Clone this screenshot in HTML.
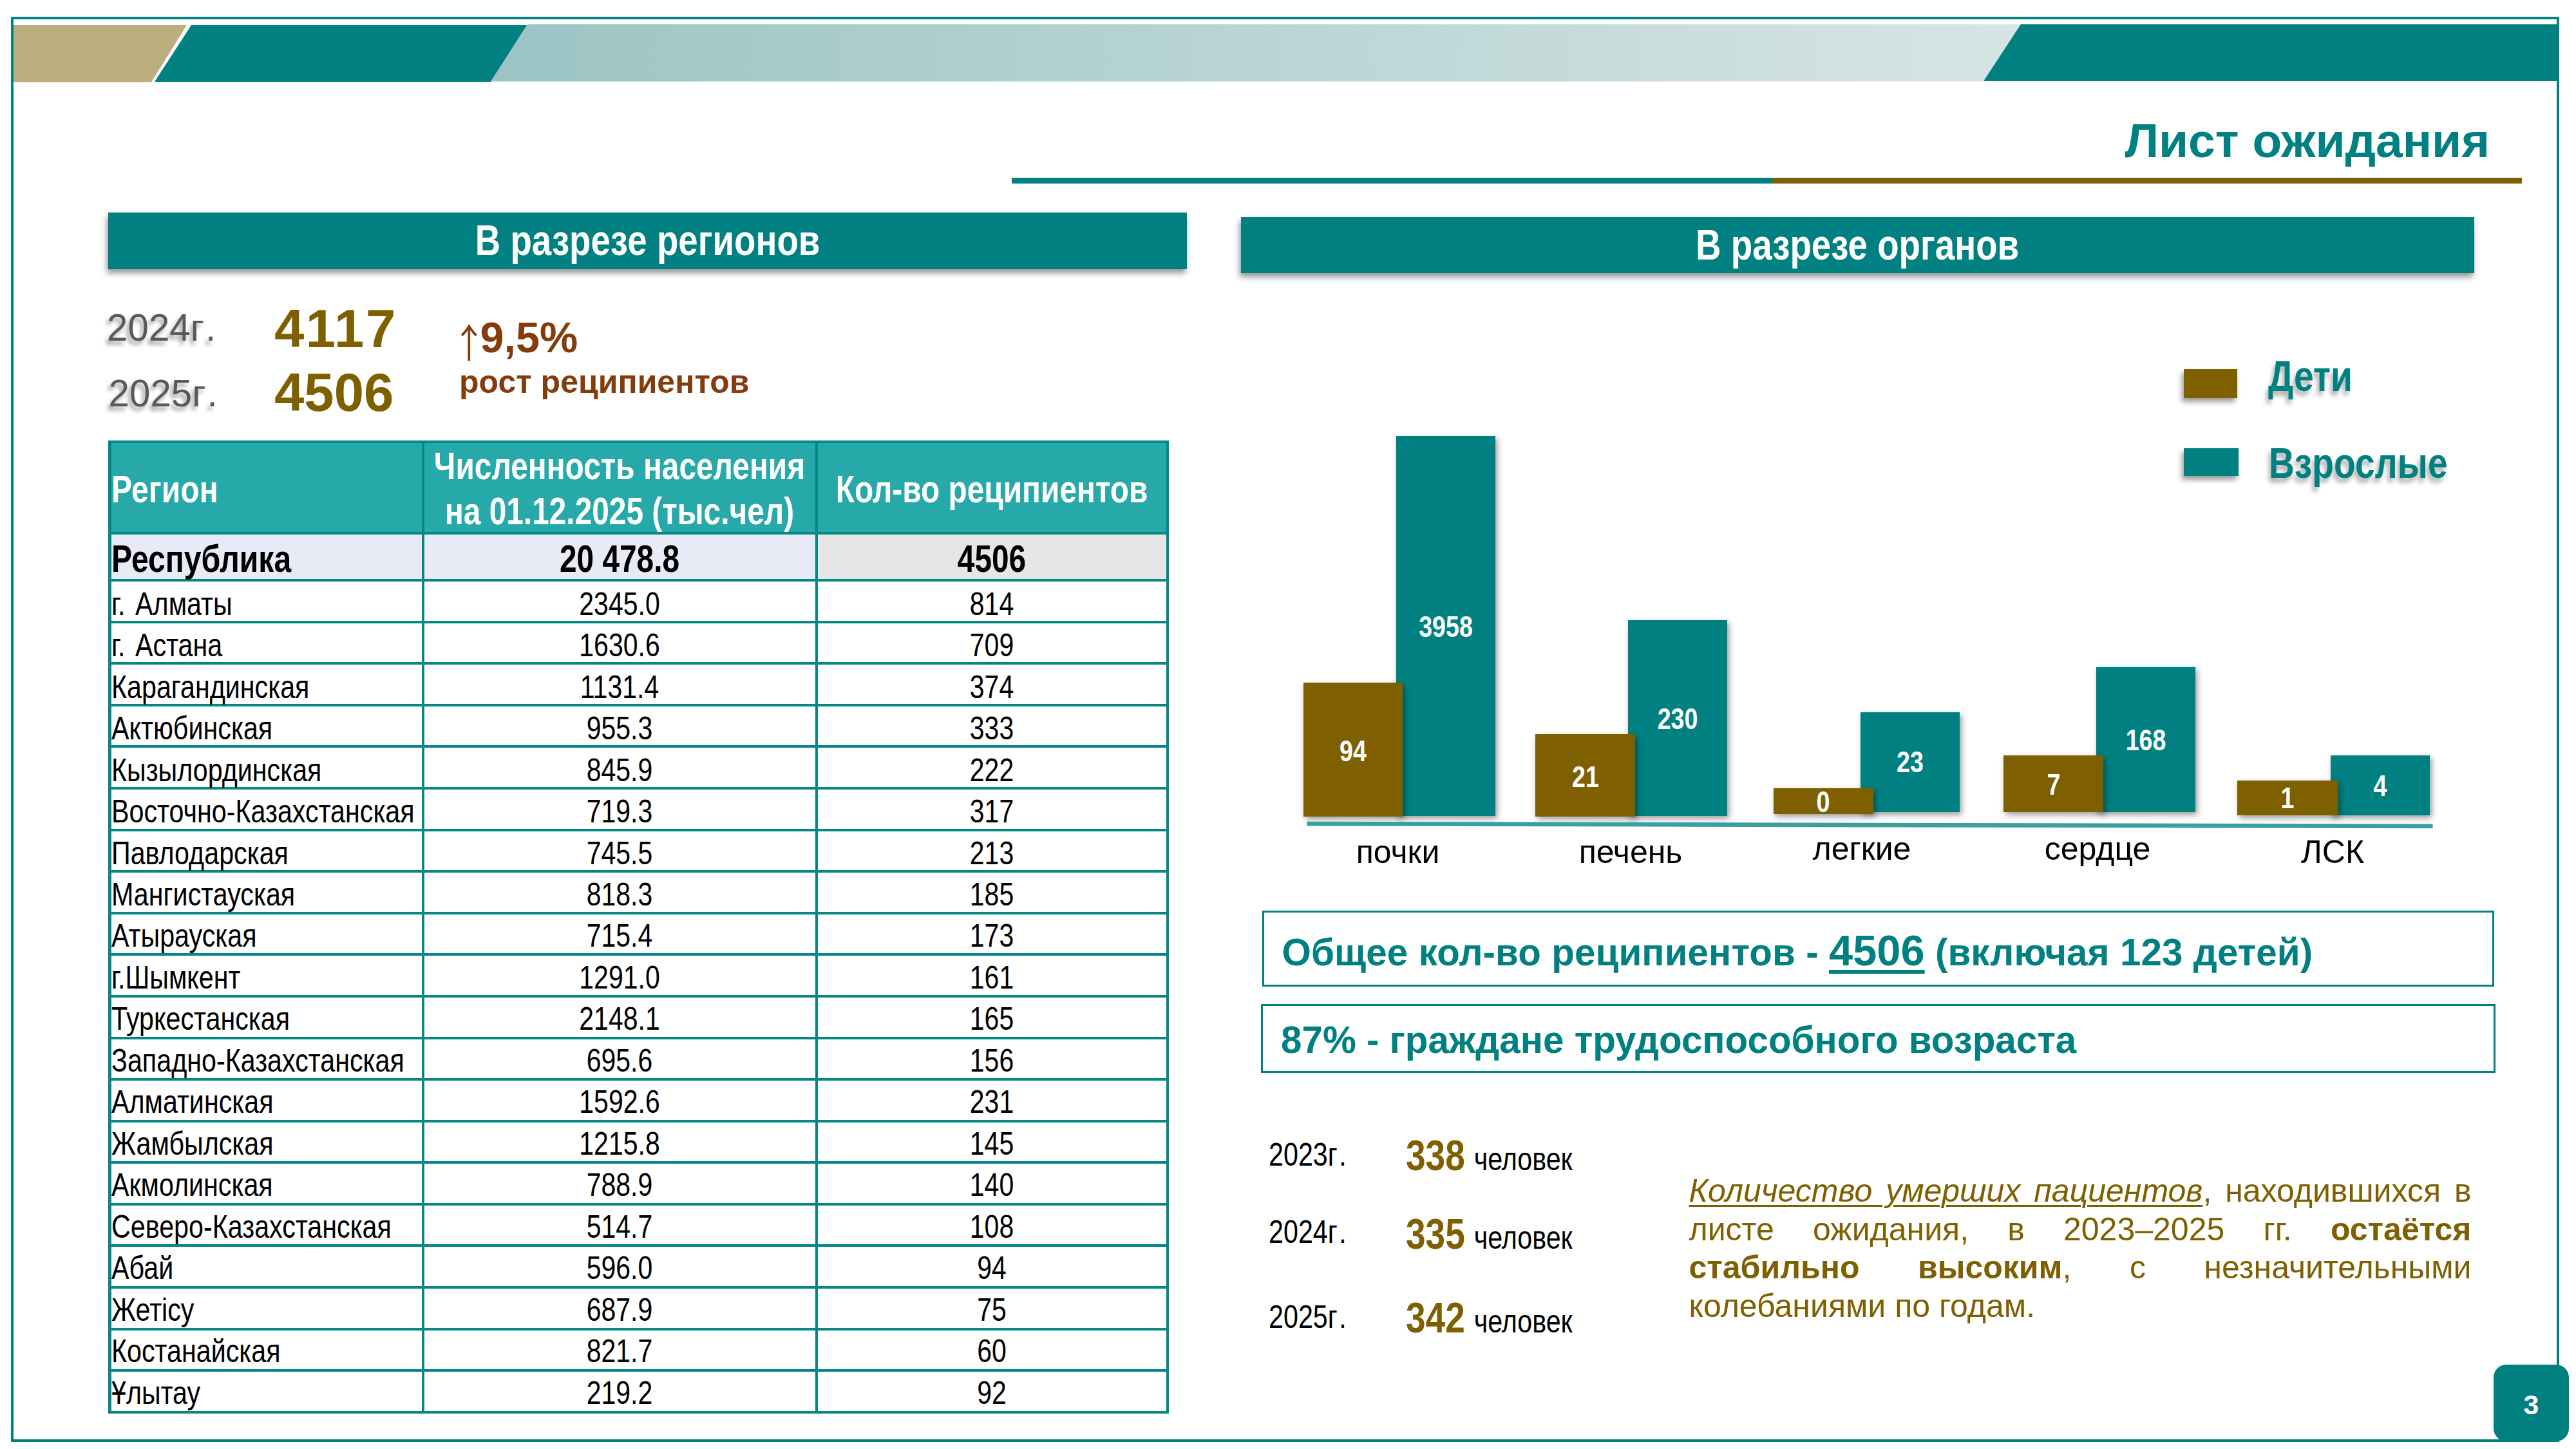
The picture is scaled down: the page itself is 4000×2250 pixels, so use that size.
<!DOCTYPE html><html lang="ru"><head><meta charset="utf-8"><title>Лист ожидания</title><style>
*{box-sizing:border-box}
html,body{margin:0;padding:0;background:#fff}
body{width:4000px;height:2250px;position:relative;overflow:hidden;font-family:"Liberation Sans",sans-serif;color:#000}
.t{position:absolute;line-height:1;white-space:nowrap;margin:0}
.b{font-weight:bold}
.n{display:inline-block;transform:scaleX(.82);transform-origin:0 50%;white-space:nowrap}
.nc{display:inline-block;transform:scaleX(.82);transform-origin:50% 50%;white-space:nowrap}
.abs{position:absolute}
#frame{left:16.5px;top:26px;width:3957.5px;height:2213px;border:4px solid #008080}
.sec{position:absolute;background:#008080;box-shadow:-2px 6px 9px rgba(0,0,0,.42);color:#fff;font-weight:bold;font-size:66.67px;line-height:1;text-align:center}
.sh{text-shadow:-4px 6px 6px rgba(0,0,0,.38)}
#tbl{position:absolute;left:168.25px;top:683.75px;width:1646.75px;height:1511px;background:#058786}
.c{position:absolute;background:#fff}
.hd{background:#27A8A9}
.L{position:absolute;line-height:1;white-space:nowrap;transform-origin:0 50%;transform:scaleX(.825)}
.C{position:absolute;line-height:1;white-space:nowrap;text-align:center;transform:translateX(-50%) scaleX(.82)}
.d{font-size:50px;word-spacing:5px}
.h{font-size:58.33px;font-weight:bold;color:#fff}
.r{font-size:58.33px;font-weight:bold}
.bar{position:absolute;box-shadow:3px 4px 9px rgba(0,0,0,.4)}
.bt{background:#008080}
.bb{background:#7F6000}
.bl{position:absolute;color:#fff;font-weight:bold;font-size:45.83px;line-height:1;text-align:center;white-space:nowrap}
.cat{position:absolute;font-size:50px;line-height:1;text-align:center;white-space:nowrap;width:300px}
.box{position:absolute;border:3px solid #008080;color:#008080;font-weight:bold;font-size:58.33px;line-height:1;white-space:nowrap}
#para{position:absolute;left:2622.5px;top:1820.1px;width:1215px;font-size:50px;line-height:59.5px;color:#7F6000;text-align:justify}
#para div{text-align-last:justify;white-space:nowrap}
#para div:last-child{text-align-last:left}
.bl2{color:#fff;font-weight:bold;font-size:45.83px}
.lg{color:#008080;font-weight:bold;font-size:66.67px;text-shadow:-4px 7px 8px rgba(0,0,0,.32);transform:scaleX(.828)}
.bx{color:#008080}
.num{color:#7F6000;font-weight:bold;font-size:66.67px}
.chel{color:#000;font-weight:normal;font-size:50px}
#pn{position:absolute;left:3871.5px;top:2119.25px;width:117.75px;height:118.25px;border-radius:20px;background:#008080;color:#fff;font-weight:bold;font-size:43px;line-height:1;text-align:center}
</style></head><body>
<svg class="abs" style="left:0;top:0" width="4000" height="140" viewBox="0 0 4000 140">
<defs><linearGradient id="lg" x1="0" y1="0" x2="1" y2="0"><stop offset="0" stop-color="#9CC4C4"/><stop offset="1" stop-color="#D6E5E4"/></linearGradient></defs>
<polygon points="20,39 290,39 235,127.5 20,127.5" fill="#BDAE7E"/>
<polygon points="297,39 819,39 762,127 240,127" fill="#008080"/>
<polygon points="819,37.5 3138,37.5 3080,126.5 762,126.5" fill="url(#lg)"/>
<polygon points="3138,37.5 3970,37.5 3970,126 3080,126" fill="#008080"/>
</svg>
<div id="frame" class="abs"></div>
<div class="t b" style="right:134px;top:180.51px;font-size:75px;color:#008080">Лист ожидания</div>
<div class="abs" style="left:1570.5px;top:276px;width:1182px;height:9px;background:#008080"></div>
<div class="abs" style="left:2752px;top:276px;width:1164px;height:9px;background:#7F6000"></div>
<div class="sec" style="left:168px;top:330px;width:1675px;height:87.5px;padding-top:10.06px"><span class="nc">В разрезе регионов</span></div>
<div class="sec" style="left:1926.5px;top:337px;width:1915.5px;height:86.5px;padding-top:10.06px"><span class="nc">В разрезе органов</span></div>
<div class="t sh" style="left:166px;top:479.62px;font-size:58.33px;color:#595959">2024<span style="letter-spacing:2px">г</span>.</div>
<div class="t sh" style="left:168.5px;top:581.62px;font-size:58.33px;color:#595959">2025<span style="letter-spacing:2px">г</span>.</div>
<div class="t b" style="left:426px;top:469.46px;font-size:83.33px;color:#7F6000;letter-spacing:2.5px">4117</div>
<div class="t b" style="left:426px;top:567.96px;font-size:83.33px;color:#7F6000">4506</div>
<div class="t" style="left:702px;top:498.2px;font-size:62px;font-family:'Noto Sans CJK SC','DejaVu Sans',sans-serif;color:#843C0C;transform-origin:0 50%;transform:scaleX(.85)">↑</div>
<div class="t b" style="left:745.4px;top:491.06px;font-size:66.67px;color:#843C0C">9,5%</div>
<div class="t b" style="left:713px;top:567.67px;font-size:50px;color:#843C0C">рост реципиентов</div>
<div id="tbl"></div>
<div class="c hd" style="left:172.60px;top:688.00px;width:482.40px;height:138.00px;"></div>
<div class="c hd" style="left:659.00px;top:688.00px;width:606.75px;height:138.00px;"></div>
<div class="c hd" style="left:1270.00px;top:688.00px;width:540.75px;height:138.00px;"></div>
<div class="c " style="left:172.60px;top:830.10px;width:482.40px;height:68.90px;background:#E8EAF6"></div>
<div class="c " style="left:659.00px;top:830.10px;width:606.75px;height:68.90px;background:#E8EAF6"></div>
<div class="c " style="left:1270.00px;top:830.10px;width:540.75px;height:68.90px;background:#E6E6E6"></div>
<div class="c " style="left:172.60px;top:903.10px;width:482.40px;height:60.60px;"></div>
<div class="c " style="left:659.00px;top:903.10px;width:606.75px;height:60.60px;"></div>
<div class="c " style="left:1270.00px;top:903.10px;width:540.75px;height:60.60px;"></div>
<div class="c " style="left:172.60px;top:967.69px;width:482.40px;height:60.60px;"></div>
<div class="c " style="left:659.00px;top:967.69px;width:606.75px;height:60.60px;"></div>
<div class="c " style="left:1270.00px;top:967.69px;width:540.75px;height:60.60px;"></div>
<div class="c " style="left:172.60px;top:1032.27px;width:482.40px;height:60.60px;"></div>
<div class="c " style="left:659.00px;top:1032.27px;width:606.75px;height:60.60px;"></div>
<div class="c " style="left:1270.00px;top:1032.27px;width:540.75px;height:60.60px;"></div>
<div class="c " style="left:172.60px;top:1096.86px;width:482.40px;height:60.60px;"></div>
<div class="c " style="left:659.00px;top:1096.86px;width:606.75px;height:60.60px;"></div>
<div class="c " style="left:1270.00px;top:1096.86px;width:540.75px;height:60.60px;"></div>
<div class="c " style="left:172.60px;top:1161.45px;width:482.40px;height:60.60px;"></div>
<div class="c " style="left:659.00px;top:1161.45px;width:606.75px;height:60.60px;"></div>
<div class="c " style="left:1270.00px;top:1161.45px;width:540.75px;height:60.60px;"></div>
<div class="c " style="left:172.60px;top:1226.03px;width:482.40px;height:60.60px;"></div>
<div class="c " style="left:659.00px;top:1226.03px;width:606.75px;height:60.60px;"></div>
<div class="c " style="left:1270.00px;top:1226.03px;width:540.75px;height:60.60px;"></div>
<div class="c " style="left:172.60px;top:1290.62px;width:482.40px;height:60.60px;"></div>
<div class="c " style="left:659.00px;top:1290.62px;width:606.75px;height:60.60px;"></div>
<div class="c " style="left:1270.00px;top:1290.62px;width:540.75px;height:60.60px;"></div>
<div class="c " style="left:172.60px;top:1355.21px;width:482.40px;height:60.60px;"></div>
<div class="c " style="left:659.00px;top:1355.21px;width:606.75px;height:60.60px;"></div>
<div class="c " style="left:1270.00px;top:1355.21px;width:540.75px;height:60.60px;"></div>
<div class="c " style="left:172.60px;top:1419.79px;width:482.40px;height:60.60px;"></div>
<div class="c " style="left:659.00px;top:1419.79px;width:606.75px;height:60.60px;"></div>
<div class="c " style="left:1270.00px;top:1419.79px;width:540.75px;height:60.60px;"></div>
<div class="c " style="left:172.60px;top:1484.38px;width:482.40px;height:60.60px;"></div>
<div class="c " style="left:659.00px;top:1484.38px;width:606.75px;height:60.60px;"></div>
<div class="c " style="left:1270.00px;top:1484.38px;width:540.75px;height:60.60px;"></div>
<div class="c " style="left:172.60px;top:1548.97px;width:482.40px;height:60.60px;"></div>
<div class="c " style="left:659.00px;top:1548.97px;width:606.75px;height:60.60px;"></div>
<div class="c " style="left:1270.00px;top:1548.97px;width:540.75px;height:60.60px;"></div>
<div class="c " style="left:172.60px;top:1613.56px;width:482.40px;height:60.60px;"></div>
<div class="c " style="left:659.00px;top:1613.56px;width:606.75px;height:60.60px;"></div>
<div class="c " style="left:1270.00px;top:1613.56px;width:540.75px;height:60.60px;"></div>
<div class="c " style="left:172.60px;top:1678.14px;width:482.40px;height:60.60px;"></div>
<div class="c " style="left:659.00px;top:1678.14px;width:606.75px;height:60.60px;"></div>
<div class="c " style="left:1270.00px;top:1678.14px;width:540.75px;height:60.60px;"></div>
<div class="c " style="left:172.60px;top:1742.73px;width:482.40px;height:60.60px;"></div>
<div class="c " style="left:659.00px;top:1742.73px;width:606.75px;height:60.60px;"></div>
<div class="c " style="left:1270.00px;top:1742.73px;width:540.75px;height:60.60px;"></div>
<div class="c " style="left:172.60px;top:1807.32px;width:482.40px;height:60.60px;"></div>
<div class="c " style="left:659.00px;top:1807.32px;width:606.75px;height:60.60px;"></div>
<div class="c " style="left:1270.00px;top:1807.32px;width:540.75px;height:60.60px;"></div>
<div class="c " style="left:172.60px;top:1871.90px;width:482.40px;height:60.60px;"></div>
<div class="c " style="left:659.00px;top:1871.90px;width:606.75px;height:60.60px;"></div>
<div class="c " style="left:1270.00px;top:1871.90px;width:540.75px;height:60.60px;"></div>
<div class="c " style="left:172.60px;top:1936.49px;width:482.40px;height:60.60px;"></div>
<div class="c " style="left:659.00px;top:1936.49px;width:606.75px;height:60.60px;"></div>
<div class="c " style="left:1270.00px;top:1936.49px;width:540.75px;height:60.60px;"></div>
<div class="c " style="left:172.60px;top:2001.08px;width:482.40px;height:60.60px;"></div>
<div class="c " style="left:659.00px;top:2001.08px;width:606.75px;height:60.60px;"></div>
<div class="c " style="left:1270.00px;top:2001.08px;width:540.75px;height:60.60px;"></div>
<div class="c " style="left:172.60px;top:2065.66px;width:482.40px;height:60.60px;"></div>
<div class="c " style="left:659.00px;top:2065.66px;width:606.75px;height:60.60px;"></div>
<div class="c " style="left:1270.00px;top:2065.66px;width:540.75px;height:60.60px;"></div>
<div class="c " style="left:172.60px;top:2130.25px;width:482.40px;height:60.60px;"></div>
<div class="c " style="left:659.00px;top:2130.25px;width:606.75px;height:60.60px;"></div>
<div class="c " style="left:1270.00px;top:2130.25px;width:540.75px;height:60.60px;"></div>
<div class="L h" style="left:172.50px;top:730.62px">Регион</div>
<div class="C h" style="left:962.38px;top:694.62px;">Численность населения</div>
<div class="C h" style="left:962.38px;top:764.62px;">на 01.12.2025 (тыс.чел)</div>
<div class="C h" style="left:1540.38px;top:730.62px;">Кол-во реципиентов</div>
<div class="L r" style="left:172.50px;top:838.87px">Республика</div>
<div class="C r" style="left:962.38px;top:838.87px;">20 478.8</div>
<div class="C r" style="left:1540.38px;top:838.87px;">4506</div>
<div class="L d" style="left:172.50px;top:912.67px">г. Алматы</div>
<div class="C d" style="left:962.38px;top:912.67px;">2345.0</div>
<div class="C d" style="left:1540.38px;top:912.67px;">814</div>
<div class="L d" style="left:172.50px;top:977.15px">г. Астана</div>
<div class="C d" style="left:962.38px;top:977.15px;">1630.6</div>
<div class="C d" style="left:1540.38px;top:977.15px;">709</div>
<div class="L d" style="left:172.50px;top:1041.62px">Карагандинская</div>
<div class="C d" style="left:962.38px;top:1041.62px;">1131.4</div>
<div class="C d" style="left:1540.38px;top:1041.62px;">374</div>
<div class="L d" style="left:172.50px;top:1106.10px">Актюбинская</div>
<div class="C d" style="left:962.38px;top:1106.10px;">955.3</div>
<div class="C d" style="left:1540.38px;top:1106.10px;">333</div>
<div class="L d" style="left:172.50px;top:1170.57px">Кызылординская</div>
<div class="C d" style="left:962.38px;top:1170.57px;">845.9</div>
<div class="C d" style="left:1540.38px;top:1170.57px;">222</div>
<div class="L d" style="left:172.50px;top:1235.04px">Восточно-Казахстанская</div>
<div class="C d" style="left:962.38px;top:1235.04px;">719.3</div>
<div class="C d" style="left:1540.38px;top:1235.04px;">317</div>
<div class="L d" style="left:172.50px;top:1299.52px">Павлодарская</div>
<div class="C d" style="left:962.38px;top:1299.52px;">745.5</div>
<div class="C d" style="left:1540.38px;top:1299.52px;">213</div>
<div class="L d" style="left:172.50px;top:1363.99px">Мангистауская</div>
<div class="C d" style="left:962.38px;top:1363.99px;">818.3</div>
<div class="C d" style="left:1540.38px;top:1363.99px;">185</div>
<div class="L d" style="left:172.50px;top:1428.46px">Атырауская</div>
<div class="C d" style="left:962.38px;top:1428.46px;">715.4</div>
<div class="C d" style="left:1540.38px;top:1428.46px;">173</div>
<div class="L d" style="left:172.50px;top:1492.94px">г.Шымкент</div>
<div class="C d" style="left:962.38px;top:1492.94px;">1291.0</div>
<div class="C d" style="left:1540.38px;top:1492.94px;">161</div>
<div class="L d" style="left:172.50px;top:1557.41px">Туркестанская</div>
<div class="C d" style="left:962.38px;top:1557.41px;">2148.1</div>
<div class="C d" style="left:1540.38px;top:1557.41px;">165</div>
<div class="L d" style="left:172.50px;top:1621.89px">Западно-Казахстанская</div>
<div class="C d" style="left:962.38px;top:1621.89px;">695.6</div>
<div class="C d" style="left:1540.38px;top:1621.89px;">156</div>
<div class="L d" style="left:172.50px;top:1686.36px">Алматинская</div>
<div class="C d" style="left:962.38px;top:1686.36px;">1592.6</div>
<div class="C d" style="left:1540.38px;top:1686.36px;">231</div>
<div class="L d" style="left:172.50px;top:1750.83px">Жамбылская</div>
<div class="C d" style="left:962.38px;top:1750.83px;">1215.8</div>
<div class="C d" style="left:1540.38px;top:1750.83px;">145</div>
<div class="L d" style="left:172.50px;top:1815.31px">Акмолинская</div>
<div class="C d" style="left:962.38px;top:1815.31px;">788.9</div>
<div class="C d" style="left:1540.38px;top:1815.31px;">140</div>
<div class="L d" style="left:172.50px;top:1879.78px">Северо-Казахстанская</div>
<div class="C d" style="left:962.38px;top:1879.78px;">514.7</div>
<div class="C d" style="left:1540.38px;top:1879.78px;">108</div>
<div class="L d" style="left:172.50px;top:1944.25px">Абай</div>
<div class="C d" style="left:962.38px;top:1944.25px;">596.0</div>
<div class="C d" style="left:1540.38px;top:1944.25px;">94</div>
<div class="L d" style="left:172.50px;top:2008.73px">Жетісу</div>
<div class="C d" style="left:962.38px;top:2008.73px;">687.9</div>
<div class="C d" style="left:1540.38px;top:2008.73px;">75</div>
<div class="L d" style="left:172.50px;top:2073.20px">Костанайская</div>
<div class="C d" style="left:962.38px;top:2073.20px;">821.7</div>
<div class="C d" style="left:1540.38px;top:2073.20px;">60</div>
<div class="L d" style="left:172.50px;top:2137.68px">Ұлытау</div>
<div class="C d" style="left:962.38px;top:2137.68px;">219.2</div>
<div class="C d" style="left:1540.38px;top:2137.68px;">92</div>
<div id="chart">
<div class="bar bt" style="left:2167.6px;top:677px;width:154.90px;height:589.75px"></div>
<div class="bar bb" style="left:2024px;top:1059.5px;width:154.25px;height:208.00px"></div>
<div class="bar bt" style="left:2527.9px;top:962.5px;width:154.20px;height:304.10px"></div>
<div class="bar bb" style="left:2384.25px;top:1140.2px;width:154.50px;height:127.50px"></div>
<div class="bar bt" style="left:2888.7px;top:1106.2px;width:154.20px;height:155.20px"></div>
<div class="bar bb" style="left:2754px;top:1224.1px;width:154.50px;height:39.50px"></div>
<div class="bar bt" style="left:3254.6px;top:1035.8px;width:154.60px;height:225.50px"></div>
<div class="bar bb" style="left:3111.1px;top:1172.6px;width:154.70px;height:88.90px"></div>
<div class="bar bt" style="left:3618.5px;top:1172.5px;width:154.00px;height:93.10px"></div>
<div class="bar bb" style="left:3474.4px;top:1211.6px;width:155.30px;height:54.60px"></div>
<svg class="abs" style="left:2020px;top:1270px" width="1770" height="24" viewBox="2020 1270 1770 24"><polygon points="2029.5,1275.75 3777.5,1279.5 3777.5,1286.25 2029.5,1282.5" fill="#3A9F9F"/></svg>
<div class="C bl2" style="left:2245.00px;top:950.70px;">3958</div>
<div class="C bl2" style="left:2101.00px;top:1143.70px;">94</div>
<div class="C bl2" style="left:2605.00px;top:1094.20px;">230</div>
<div class="C bl2" style="left:2461.50px;top:1184.20px;">21</div>
<div class="C bl2" style="left:2966.00px;top:1161.20px;">23</div>
<div class="C bl2" style="left:2831.00px;top:1222.70px;">0</div>
<div class="C bl2" style="left:3332.00px;top:1127.20px;">168</div>
<div class="C bl2" style="left:3188.50px;top:1196.20px;">7</div>
<div class="C bl2" style="left:3695.50px;top:1197.70px;">4</div>
<div class="C bl2" style="left:3552.00px;top:1216.70px;">1</div>
<div class="cat" style="left:2020.60px;top:1297.92px">почки</div>
<div class="cat" style="left:2382.00px;top:1297.92px">печень</div>
<div class="cat" style="left:2741.00px;top:1292.67px">легкие</div>
<div class="cat" style="left:3107.00px;top:1292.67px">сердце</div>
<div class="cat" style="left:3472.00px;top:1297.67px">ЛСК</div>
<div class="bar bb" style="left:3390.6px;top:573.2px;width:83.6px;height:44.6px;box-shadow:-3px 6px 8px rgba(0,0,0,.4)"></div>
<div class="bar bt" style="left:3391px;top:696.3px;width:85px;height:42.8px;box-shadow:-3px 6px 8px rgba(0,0,0,.4)"></div>
<div class="L lg" style="left:3522.00px;top:551.06px">Дети</div>
<div class="L lg" style="left:3523.00px;top:685.56px">Взрослые</div>
</div>
<div class="box" style="left:1960px;top:1414px;width:1913px;height:117.5px"></div>
<div class="box" style="left:1957.5px;top:1558.5px;width:1917.5px;height:107px"></div>
<div class="t b bx" style="left:1990.5px;top:1442.76px;font-size:58.33px;letter-spacing:.08px">Общее кол-во реципиентов - <span style="font-size:66.67px;text-decoration:underline;text-decoration-thickness:5.8px;text-underline-offset:7.3px">4506</span> (включая 123 детей)</div>
<div class="t b bx" style="left:1989px;top:1586.12px;font-size:58.33px;">87% - граждане трудоспособного возраста</div>
<div class="L d" style="left:1970.00px;top:1767.67px">2023<span style="letter-spacing:3px">г</span>.</div>
<div class="L d" style="left:1970.00px;top:1887.67px">2024<span style="letter-spacing:3px">г</span>.</div>
<div class="L d" style="left:1970.00px;top:2020.17px">2025<span style="letter-spacing:3px">г</span>.</div>
<div class="L num" style="left:2183.00px;top:1761.06px">338<span class="chel" style="margin-left:3px"> человек</span></div>
<div class="L num" style="left:2183.00px;top:1883.06px">335<span class="chel" style="margin-left:3px"> человек</span></div>
<div class="L num" style="left:2183.00px;top:2013.06px">342<span class="chel" style="margin-left:3px"> человек</span></div>
<div id="para"><div><i style="text-decoration:underline;text-decoration-thickness:2.5px;text-underline-offset:5px">Количество умерших пациентов</i>, находившихся в</div><div>листе ожидания, в 2023–2025 гг. <b>остаётся</b></div><div><b>стабильно высоким</b>, с незначительными</div><div>колебаниями по годам.</div></div>
<div id="pn"><div style="padding-top:40.5px">3</div></div>
</body></html>
